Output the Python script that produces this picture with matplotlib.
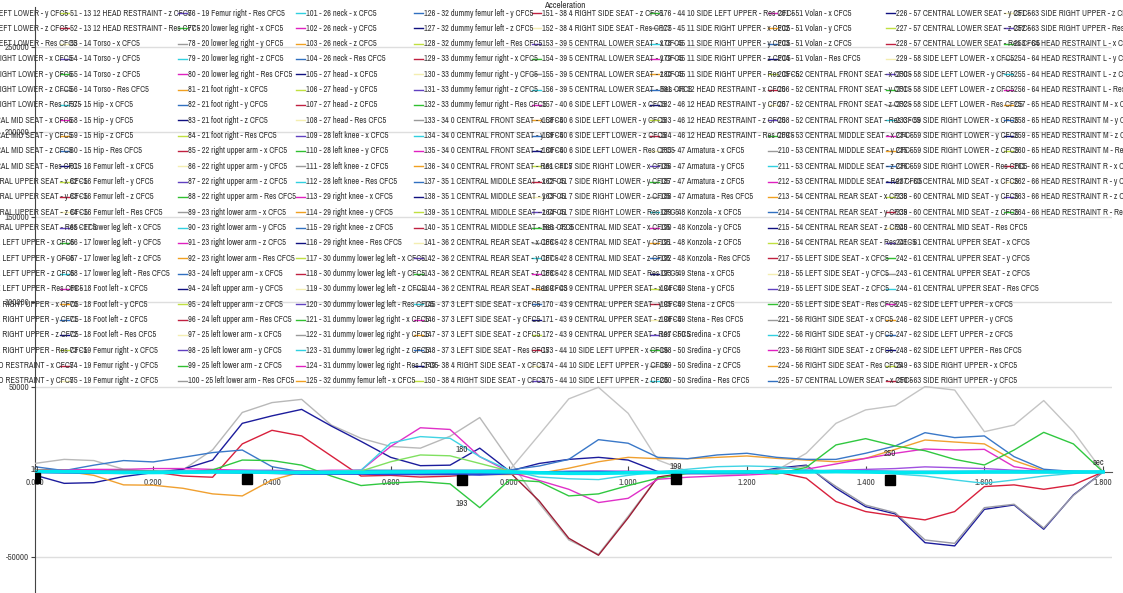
import numpy as np
import matplotlib
matplotlib.use("Agg")
import matplotlib.pyplot as plt
from matplotlib.lines import Line2D

FONT = ["Archivo Narrow", "Liberation Sans", "DejaVu Sans"]

# ------------------------------------------------------------------ data
time_s = np.linspace(0, 1.8, 37)          # 0.05 s sampling

# acceleration, in thousands
acc_k = {
    "gray_a": [5, 7.4, 6.7, 1.6, 0.5, 1.2, 13, 35, 40.8, 42.7, 27.6, 19.8, 15, 14, 21, 32, 7,
               -18.4, -40, -48.4, -26, -3, -0.8, -0.3, 0, 0, 0.3, 0.5, 0.3, 0.2, 0, 0, 0, 0, 0, 0, 0],
    "gray_b": [0.5, 0.5, 0.3, 0, 0, 0.3, 0.5, 0.5, 0.3, 0, 0, 0, 0.3, 0.5, 0.5, 0.5, 1, 21.8, 43,
               49.8, 34.5, 7, 0.5, 0.3, 0.5, 1, 11, 28.6, 36.5, 39, 50.2, 48.2, 23.7, 27.6, 42, 23.7, 0],
    "maroon": [0, 0, 0, 0, 0, 0, 0, 0, 0, 0, 0, 0, 0, 0, 0, 0, 0, -17, -39, -49, -27, -3, -0.5,
               0, 0, 0, 0, 0, 0, 0, 0, 0, 0, 0, 0, 0, 0],
    "navy": [-1.8, -6.7, -6.3, -2.7, -0.4, 1.6, 7, 28.6, 33, 36.8, 27, 18, 8.6, 3.7, 4, 14, 0.5, 5,
             7.4, 8.6, 7, 0.2, -1, -1, -1, 2.2, 4, -9.6, -20.4, -24.7, -41.6, -43.5, -22, -19.4,
             -33.7, -13.5, 0],
    "gray_c": [0, 0, 0, 0, 0, 0, 0, 0, 0, 0, 0, 0, 0, 0, 0, 0, 0, 0, 0, 0, 0, 0, 0, 0, 0, 1.5,
               3.5, -8.5, -19.5, -24, -40, -42, -21, -19, -33, -13.8, 0],
    "red": [1.2, 1.2, 1, 0.6, 0, -2.4, -3.1, 16.5, 24.5, 21.2, 9.4, -2.4, -2, -3, -2.5, -1, 0,
            -0.5, -0.5, -0.5, -0.5, -0.5, -0.5, -0.5, -0.5, 0, -3.7, -17.4, -23.3, -25.9, -28.2,
            -23.3, -8.6, -7.6, -10.2, -7.6, 0],
    "orange": [1, 0.5, -2, -7.6, -7.8, -9.6, -12.9, -14.1, -4.7, 0, -0.5, -1, -1, -1.5, -1.5,
               -1.5, -1.5, -0.8, 2.2, 6, 8.6, 7.8, 7.8, 8.6, 9.4, 8, 7, 6, 8, 13.3, 18.8, 17.6,
               16.5, 6.7, 0.8, 0.3, 0],
    "steel": [3.1, 0.8, 4, 6.7, 5.9, 8.6, 11.4, 12.9, 3.1, 0, 0.5, 1, 1, 1, 1, 1, 1.2, 3.5, 7.4,
              19, 16.9, 8.6, 7.8, 10, 11, 8.6, 7.4, 7.4, 11, 15.3, 23.1, 20.2, 21.2, 9, 1.6, 0.3, 0],
    "magenta": [0.5, 1, 1.5, 1.5, 2, 2, 1.5, 1, 0.5, 0.5, 1, 1, 15, 26, 25, 9, 0, -5, -10.2, -18,
                -15.5, -4.3, -3.1, -2.4, -1.8, -0.8, 1.6, 4.7, 8, 11, 13.5, 12.9, 13.3, 3.1, 0.5,
                0.2, 0],
    "sky": [0.5, 0.5, 0.5, 0.5, 0.5, 0.5, 0.5, 0.5, 0.5, 0.5, 0.5, 1, 17, 20.8, 19.8, 9, 1, -3,
            -4, -4.5, -2, 0, 1.6, 3.1, 3.5, 3.1, 1.2, 0.6, 0.2, -1.2, -2.4, -4.7, -6.7, -4.7,
            -2.4, -0.8, 0],
    "green": [0, 0, 0.5, 1, 0.5, -0.5, 1.2, 7, 6.7, 4, -2.4, -8, -6.5, -5.7, -7, -21, -4.7, -5.7,
              -14.1, -12.9, -8, -3.7, -0.8, 0, 0.5, -1.2, 2.7, 15.9, 19.6, 15.3, 12.5, 7.4, 4.1,
              12.9, 23.3, 16.5, 0],
    "lime": [0, 0, 0, 0, 0, 0, 0, 0, 0, 0, 0, 0.5, 6, 10, 9.5, 5, 0.5, 0, 0, 0, 0, 0, 0, 0, 0, 0,
             0, 0, 0, 0, 0, 0, 0, 0, 0, 0, 0],
    "violet": [0, 0.3, 0.5, 0.5, 0.3, 0, 0.5, 1, 1, 0.5, 0, -0.5, -1, -1, -1, -1.5, -0.5, 0, 0.3,
               0.5, 0.5, 0.3, 0, -0.3, -0.5, 0, 0.5, 1, 1.5, 2, 3, 2.5, 2, 1, 0.5, 0.2, 0],
    "blue": [0, -0.3, -0.5, -0.5, -0.3, 0, 0, -0.3, -0.5, -1, -1, -1, -1.2, -1.2, -1.2, -1.5, -0.8,
             -0.3, 0, 0, -0.3, -0.5, -0.5, -0.3, 0, 0, 0.3, 0.5, 0.3, 0, 0, 0, 0, 0, 0, 0, 0],
    "cyan": [0.3, 0.2, 0, -0.3, -0.3, -0.2, 0, 0, -0.2, -0.3, -0.3, -0.2, 0, 0, 0.2, 0.2, 0, -0.5,
             -0.8, -0.8, -0.5, -0.3, 0, 0, 0, 0, 0, 0.2, 0, -0.3, -0.3, -0.2, 0, 0, 0, 0, 0],
}
colors = {"gray_a": "#b8b8b8", "gray_b": "#c4c4c4", "maroon": "#9b1c34", "navy": "#1c1c9c",
          "gray_c": "#9a9aa6", "red": "#d8203c", "orange": "#f0a030", "steel": "#3a78c8",
          "magenta": "#e030c8", "sky": "#40d4e4", "green": "#30c840", "lime": "#80e060",
          "violet": "#a050e0", "blue": "#2848d8", "cyan": "#00e8f0"}

# cursor markers and their labels
cursor_t = [0.0, 0.358, 0.72, 1.08, 1.441]
cursor_v = [-3700, -4300, -4700, -4300, -4700]
cursor_labels = [(0.0, 1600, "10"), (0.72, 13300, "180"), (0.72, -18400, "193"),
                 (1.08, 3100, "199"), (1.441, 10600, "250")]

# legend: 66 measuring locations x 4 components
seat_names = ["CENTRAL FRONT SEAT", "CENTRAL MIDDLE SEAT", "CENTRAL REAR SEAT", "LEFT SIDE SEAT",
              "RIGHT SIDE SEAT", "CENTRAL LOWER SEAT", "SIDE LEFT LOWER", "SIDE RIGHT LOWER",
              "CENTRAL MID SEAT", "CENTRAL UPPER SEAT", "SIDE LEFT UPPER", "SIDE RIGHT UPPER",
              "HEAD RESTRAINT"]
dummy_names = ["Torso", "Hip", "Femur left", "lower leg left", "Foot left", "Femur right",
               "lower leg right", "foot right", "right upper arm", "right lower arm",
               "left upper arm", "left lower arm", "neck", "head", "left knee", "right knee",
               "dummy lower leg left", "dummy lower leg right", "dummy femur left",
               "dummy femur right"]
car_names = ["Armatura", "Konzola", "Stena", "Sredina", "Volan"]
seat_names2 = seat_names[:12] + ["HEAD RESTRAINT L", "HEAD RESTRAINT M", "HEAD RESTRAINT R"]
components = ["x", "y", "z", "Res"]
legend_palette = ["#9a9a9a", "#30d0e0", "#e020c0", "#f0a020", "#3070c0", "#101080",
                  "#c0e040", "#c02040", "#f4eeb0", "#6040c0", "#30c030"]

loc_names = ([f"{i} {s}" for i, s in enumerate(seat_names)] + dummy_names
             + [f"{i} {s}" for i, s in enumerate(seat_names)] + car_names + seat_names2)
labels = [f"{n} - {(n - 1) // 4 + 1} {loc_names[(n - 1) // 4]} - {components[(n - 1) % 4]} CFC5"
          for n in range(1, len(loc_names) * 4 + 1)]

# ------------------------------------------------------------------ figure
W, H = 1123, 593
plt.rcParams["font.family"] = FONT
fig = plt.figure(figsize=(W / 100, H / 100), dpi=100)
ax = fig.add_axes([34.5 / W, 0, 1077.5 / W, 586 / H])
ax.set_xlim(0, 1.815)
ax.set_ylim(-71200, 273500)

for name, vals in acc_k.items():
    lw = 2.6 if name == "cyan" else (1.8 if name == "blue" else 1.0)
    ax.plot(time_s, np.array(vals) * 1000, color=colors[name], lw=lw, zorder=3)

ax.plot(cursor_t, cursor_v, "s", color="k", ms=7, zorder=5)
for t, v, s in cursor_labels:
    ax.text(t, v, s, ha="center", va="center", fontsize=6.5, color="#333333", zorder=6)
ax.text(1.793, 5300, "sec", ha="center", va="center", fontsize=6.5, color="#333333")

ax.spines["top"].set_visible(False)
ax.spines["right"].set_visible(False)
ax.spines["bottom"].set_position(("data", 0))
ax.spines["bottom"].set_color("#555555")
ax.spines["left"].set_color("#444444")
ax.set_xticks(np.linspace(0, 1.8, 10))
ax.set_xticklabels([f"{v:.3f}" for v in np.linspace(0, 1.8, 10)])
yt = [-50000, 50000, 100000, 150000, 200000, 250000]
ax.set_yticks(yt)
ax.set_yticklabels([str(v) for v in yt])
ax.tick_params(axis="x", direction="in", length=4, labelsize=6.5, colors="#444444", pad=4)
ax.tick_params(axis="y", direction="out", length=3, labelsize=6.5, colors="#444444", pad=1)
ax.yaxis.grid(True, color="#dedede", lw=1)
ax.set_axisbelow(True)

fig.text(565 / W, 1 - 6 / H, "Acceleration", ha="center", va="center", fontsize=6.5,
         color="#333333")

# legend: 25 rows per column, fixed column pitch
for i, lab in enumerate(labels):
    col, row = divmod(i, 25)
    x0 = -176 + 118 * col
    y0 = 13 + 15.33 * row
    col_c = legend_palette[(i + 1 - 100) % len(legend_palette)]
    fig.add_artist(Line2D([x0 / W, (x0 + 9) / W], [1 - y0 / H, 1 - y0 / H],
                          color=col_c, lw=1.0))
    fig.text((x0 + 10) / W, 1 - y0 / H, lab, ha="left", va="center", fontsize=6.0,
             color="#333333")

fig.savefig("out.png", dpi=100)
